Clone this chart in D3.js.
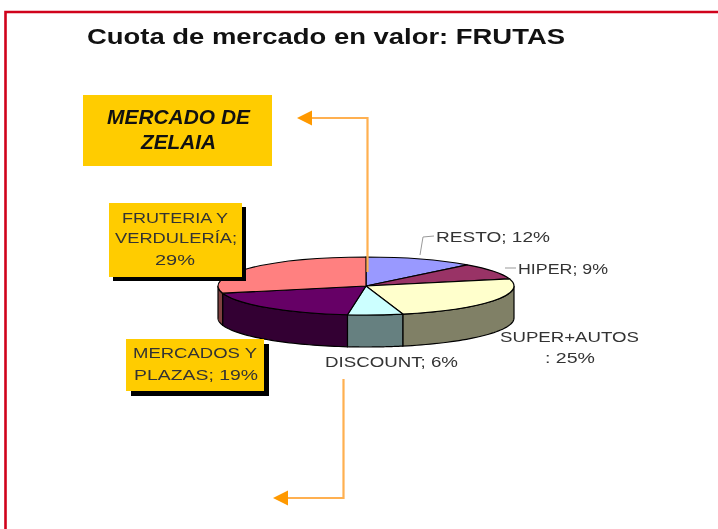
<!DOCTYPE html>
<html>
<head>
<meta charset="utf-8">
<script src="https://cdnjs.cloudflare.com/ajax/libs/d3/7.8.5/d3.min.js"></script>
<style>
  html, body { margin: 0; padding: 0; background: #fff; overflow: hidden; }
  svg { display: block; filter: blur(0.65px); }
  text { font-family: "Liberation Sans", Arial, sans-serif; }
</style>
</head>
<body>
<svg id="chart" width="718" height="529"></svg>
<script>
const categories = ["RESTO", "HIPER", "SUPER+AUTOS", "DISCOUNT", "MERCADOS Y PLAZAS", "FRUTERIA Y VERDULERÍA"];
const shares = [12, 9, 25, 6, 19, 29];

const topColors = ["#9999ff", "#993366", "#ffffcc", "#ccffff", "#660066", "#ff8080"];
const sideColors = ["#4d4d80", "#4d1a33", "#808066", "#668080", "#330033", "#804040"];

const orange = "#ffb050";
const arrowOrange = "#ff9900";
const yellow = "#ffcc00";

const cx = 366, cy = 286, rx = 148, ry = 29, depth = 32;

const svg = d3.select("#chart");

// red frame, runs off the right and bottom of the page
svg.append("path")
  .attr("d", "M5.5,529V12H718")
  .attr("fill", "none")
  .attr("stroke", "#d0021b")
  .attr("stroke-width", 2.6);

svg.append("text")
  .attr("x", 87).attr("y", 44)
  .attr("font-size", 22).attr("font-weight", "bold")
  .attr("fill", "#111")
  .attr("textLength", 478).attr("lengthAdjust", "spacingAndGlyphs")
  .text("Cuota de mercado en valor: FRUTAS");

const pie = d3.pie().sort(null).value((d) => d.value);
const arcs = pie(categories.map((c, i) => ({ name: c, value: shares[i], i })));

// angle -> point on the tilted ellipse, 0 = 12 o'clock, clockwise
const px = (a) => cx + rx * Math.sin(a);
const py = (a, drop = 0) => cy - ry * Math.cos(a) + drop;

// front wall, only the part of each slice between 3 and 9 o'clock shows
function wallPath(a0, a1) {
  const p = d3.path();
  const steps = 40;
  p.moveTo(px(a0), py(a0));
  d3.range(1, steps + 1).forEach((k) => {
    const a = a0 + ((a1 - a0) * k) / steps;
    p.lineTo(px(a), py(a));
  });
  d3.range(steps, -1, -1).forEach((k) => {
    const a = a0 + ((a1 - a0) * k) / steps;
    p.lineTo(px(a), py(a, depth));
  });
  p.closePath();
  return p.toString();
}

svg.append("g")
  .selectAll("path")
  .data(arcs.filter((d) => d.endAngle > Math.PI / 2 && d.startAngle < (3 * Math.PI) / 2))
  .join("path")
  .attr("d", (d) => wallPath(Math.max(d.startAngle, Math.PI / 2), Math.min(d.endAngle, (3 * Math.PI) / 2)))
  .attr("fill", (d) => sideColors[d.data.i])
  .attr("stroke", "#000")
  .attr("stroke-width", 1.2);

const arc = d3.arc().innerRadius(0).outerRadius(rx);

svg.append("g")
  .attr("transform", `translate(${cx},${cy}) scale(1,${ry / rx})`)
  .selectAll("path")
  .data(arcs)
  .join("path")
  .attr("d", arc)
  .attr("fill", (d) => topColors[d.data.i])
  .attr("stroke", "#000")
  .attr("stroke-width", 1.2)
  .attr("vector-effect", "non-scaling-stroke");

// leader lines
const leaders = ["M420,255L423,237L434,236", "M505,268L516,268"];
svg.append("g")
  .selectAll("path")
  .data(leaders)
  .join("path")
  .attr("d", (d) => d)
  .attr("fill", "none")
  .attr("stroke", "#999")
  .attr("stroke-width", 1);

// orange connectors
const connectors = [
  { d: "M367.5,272V118H310", head: "M297,118L312,110.5V125.5Z" },
  { d: "M343.5,379V498H286", head: "M273,498L288,490.5V505.5Z" },
];
connectors.forEach((c) => {
  svg.append("path").attr("d", c.d).attr("fill", "none").attr("stroke", orange).attr("stroke-width", 2.2);
  svg.append("path").attr("d", c.head).attr("fill", arrowOrange);
});

// yellow boxes
const boxes = [
  { x: 109, y: 203, w: 133, h: 74, shadow: 4 },
  { x: 126, y: 339, w: 138, h: 52, shadow: 5 },
  { x: 83, y: 95, w: 189, h: 71, shadow: 0 },
];
boxes.forEach((b) => {
  if (b.shadow) {
    svg.append("rect")
      .attr("x", b.x + b.shadow).attr("y", b.y + b.shadow)
      .attr("width", b.w).attr("height", b.h)
      .attr("fill", "#000");
  }
  svg.append("rect")
    .attr("x", b.x).attr("y", b.y)
    .attr("width", b.w).attr("height", b.h)
    .attr("fill", yellow);
});

// stretched labels, textLength keeps the wide look of the original
const labels = [
  { t: "MERCADO DE", x: 178.5, y: 124, len: 143, size: 20, bold: true, italic: true, fill: "#111" },
  { t: "ZELAIA", x: 178.5, y: 149, len: 75, size: 20, bold: true, italic: true, fill: "#111" },
  { t: "FRUTERIA Y", x: 175, y: 223, len: 106, size: 15 },
  { t: "VERDULERÍA;", x: 176, y: 243, len: 122, size: 15 },
  { t: "29%", x: 175, y: 265, len: 40, size: 15 },
  { t: "MERCADOS Y", x: 195, y: 358, len: 124, size: 15 },
  { t: "PLAZAS; 19%", x: 196, y: 380, len: 124, size: 15 },
  { t: "RESTO; 12%", x: 493, y: 242, len: 114, size: 15 },
  { t: "HIPER; 9%", x: 563, y: 274, len: 90, size: 15 },
  { t: "SUPER+AUTOS", x: 569.5, y: 342, len: 139, size: 15 },
  { t: ": 25%", x: 570, y: 363, len: 50, size: 15 },
  { t: "DISCOUNT; 6%", x: 391.5, y: 367, len: 133, size: 15 },
];
svg.append("g")
  .selectAll("text")
  .data(labels)
  .join("text")
  .attr("x", (d) => d.x)
  .attr("y", (d) => d.y)
  .attr("text-anchor", "middle")
  .attr("font-size", (d) => d.size)
  .attr("font-weight", (d) => (d.bold ? "bold" : "normal"))
  .attr("font-style", (d) => (d.italic ? "italic" : "normal"))
  .attr("fill", (d) => d.fill || "#333")
  .attr("textLength", (d) => d.len)
  .attr("lengthAdjust", "spacingAndGlyphs")
  .text((d) => d.t);
</script>
</body>
</html>
